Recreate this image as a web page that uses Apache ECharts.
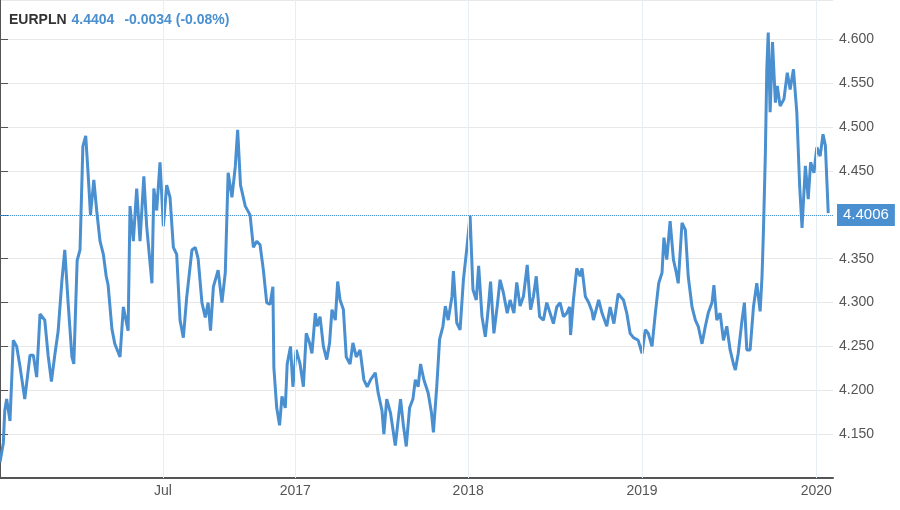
<!DOCTYPE html>
<html><head><meta charset="utf-8">
<script src="https://cdn.jsdelivr.net/npm/echarts@6/dist/echarts.min.js"></script>
<style>html,body{margin:0;padding:0;background:#fff}#c{width:900px;height:510px}</style>
</head><body><div id="c"></div>
<script>
// x = days since start of series, y = EURPLN rate
var days = [0,7,10,14,21,28,35,42,52,56,63,70,77,84,94,101,108,115,122,130,136,143,151,155,162,168,174,180,185,190,197,203,210,217,223,227,235,241,252,259,269,273,280,287,294,302,308,319,323,329,336,343,350,357,364,371,378,385,392,403,410,416,424,431,437,442,448,458,466,473,479,487,494,499,505,515,525,532,539,546,553,560,567,573,575,581,587,
592,599,603,610,615,622,630,637,643,650,655,662,666,672,679,686,692,697,704,709,714,721,727,735,741,748,756,764,771,778,788,794,802,806,812,820,830,836,841,847,853,860,867,872,878,883,890,899,906,910,917,923,930,935,941,949,952,959,966,973,980,987,993,1000,1005,1012,1019,1025,1030,1037,1044,1050,1057,1065,1071,1079,1085,1092,1099,1107,1114,1120,1126,1133,
1141,1148,1155,1162,1169,1176,1183,1190,1196,1198,1204,1211,1218,1222,1229,1236,1243,1246,1257,1264,1274,1281,1289,1298,1309,1316,1323,1330,1340,1348,1355,1361,1369,1376,1383,1390,1394,1400,1407,1414,1420,1424,1432,1439,1445,1453,1460,1466,1474,1481,1487,1495,1499,1505,1512,1519,1526,1533,1540,1544,1550,1558,1563,1568,1575,1582,1589,1596,1600,1603,1607,1610,1613,1617,1622,1628,1632,1638,1646,1653,1659,1666,1673,1679,1684,1691,1697,1702,1709,1715,1722,1728,1733,1739];
var rates = [4.118,4.14,4.177,4.19,4.165,4.257,4.25,4.227,4.19,4.19,4.24,4.24,4.215,4.287,4.28,4.24,4.21,4.24,4.267,4.325,4.36,4.30,4.238,4.23,4.348,4.36,4.478,4.49,4.447,4.40,4.44,4.405,4.37,4.355,4.33,4.32,4.27,4.253,4.238,4.295,4.268,4.41,4.37,4.43,4.37,4.444,4.387,4.322,4.43,4.405,4.46,4.387,4.434,4.42,4.363,4.355,4.28,4.26,4.306,4.36,4.363,4.35,4.30,4.283,4.30,4.268,4.318,4.337,4.30,4.334,4.448,4.42,4.455,4.497,4.434,4.41,4.40,4.363,4.37,4.366,4.337,4.30,4.298,4.318,4.226,4.18,4.16,
4.193,4.18,4.23,4.25,4.204,4.246,4.23,4.204,4.265,4.254,4.242,4.288,4.273,4.284,4.25,4.235,4.254,4.292,4.28,4.324,4.303,4.292,4.238,4.23,4.254,4.238,4.246,4.212,4.204,4.212,4.22,4.197,4.177,4.15,4.19,4.174,4.137,4.166,4.19,4.16,4.136,4.18,4.19,4.212,4.204,4.23,4.212,4.197,4.174,4.152,4.204,4.258,4.273,4.296,4.28,4.307,4.336,4.277,4.269,4.326,4.361,4.399,4.315,4.303,4.342,4.284,4.261,4.292,4.324,4.265,4.296,4.326,4.311,4.288,4.303,4.288,4.323,4.296,4.307,4.343,4.292,4.307,4.33,4.284,
4.28,4.30,4.288,4.276,4.295,4.30,4.284,4.288,4.295,4.263,4.303,4.339,4.33,4.339,4.307,4.30,4.29,4.28,4.303,4.288,4.273,4.295,4.276,4.31,4.303,4.288,4.265,4.26,4.257,4.242,4.269,4.265,4.25,4.288,4.322,4.334,4.374,4.349,4.393,4.349,4.334,4.322,4.391,4.383,4.33,4.295,4.28,4.273,4.253,4.273,4.288,4.30,4.32,4.28,4.288,4.257,4.273,4.246,4.23,4.223,4.242,4.28,4.30,4.246,4.246,4.295,4.322,4.29,4.33,4.383,4.47,4.566,4.608,4.517,4.597,4.528,4.547,4.524,4.532,4.562,4.543,4.566,4.517,4.433,4.385,4.456,4.418,4.46,4.448,4.477,4.467,4.492,4.479,4.402];
var tickLabels = ['Jul', '2017', '2018', '2019', '2020'];
var tickDays = [342, 620, 983, 1348, 1714];
var lastClose = 4.4006;
var blue = '#4a8fd0';

var chart = echarts.init(document.getElementById('c'));
chart.setOption({
    animation: false,
    title: {
        left: 4, top: 6,
        text: '{a|EURPLN} {b|4.4404}  {b|-0.0034 (-0.08%)}',
        textStyle: {
            rich: {
                a: {color: '#333', fontSize: 14, fontFamily: 'Liberation Sans'},
                b: {color: blue, fontSize: 14, fontFamily: 'Liberation Sans'}
            }
        }
    },
    grid: {left: 0, right: 67, top: 0, bottom: 32},
    xAxis: {
        type: 'value', min: 0, max: 1749,
        axisLine: {lineStyle: {color: '#555', width: 2}},
        axisTick: {show: false}, axisLabel: {show: false},
        splitLine: {show: false}
    },
    yAxis: {
        type: 'value', position: 'right', min: 4.1, max: 4.645, interval: 0.05,
        axisLine: {show: true, lineStyle: {color: '#555', width: 2}},
        axisTick: {show: true, length: 8, lineStyle: {color: '#555'}},
        axisLabel: {
            color: '#555', fontSize: 14, fontFamily: 'Liberation Sans', margin: 6,
            showMinLabel: false, showMaxLabel: false,
            formatter: function (v) { return v.toFixed(3); }
        },
        splitLine: {lineStyle: {color: '#e8e8e8'}}
    },
    series: [{
        type: 'line',
        data: days.map(function (d, i) { return [d, rates[i]]; }),
        symbol: 'none',
        lineStyle: {color: blue, width: 3},
        markLine: {
            silent: true, symbol: 'none',
            data: tickDays.map(function (d, i) {
                return {
                    xAxis: d, name: tickLabels[i],
                    lineStyle: {color: '#e6eff3', type: 'solid', width: 1},
                    label: {position: 'start', formatter: '{b}', color: '#555', fontSize: 14, fontFamily: 'Liberation Sans', distance: 6}
                };
            }).concat([{
                yAxis: lastClose,
                lineStyle: {color: blue, type: 'dotted', width: 1},
                label: {
                    position: 'end', formatter: lastClose.toFixed(4), distance: 4,
                    color: '#fff', backgroundColor: blue, fontSize: 15, fontFamily: 'Liberation Sans',
                    padding: [4, 6, 3, 6]
                }
            }])
        },
        z: 3
    }]
});
</script>
</body></html>
